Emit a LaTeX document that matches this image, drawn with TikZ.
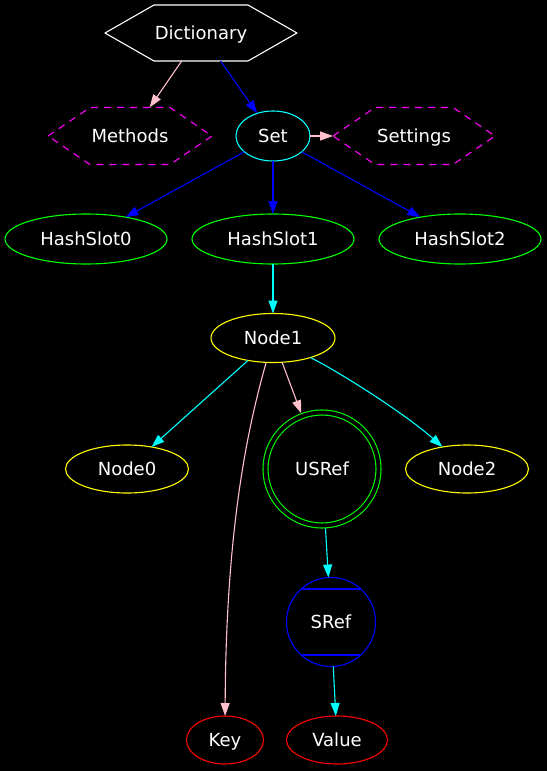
\documentclass[tikz,border=0pt]{standalone}
\usepackage{fontspec}
\setmainfont{DejaVu Sans}
\usetikzlibrary{shapes.geometric, arrows.meta, calc}
\definecolor{gvpink}{HTML}{FFC0CB}
\definecolor{gvblue}{HTML}{0000FF}
\definecolor{gvcyan}{HTML}{00FFFF}
\definecolor{gvgreen}{HTML}{00FF00}
\definecolor{gvyellow}{HTML}{FFFF00}
\definecolor{gvred}{HTML}{FF0000}
\definecolor{gvmagenta}{HTML}{FF00FF}
\tikzset{
	defaultnode/.style={
			inner sep=0pt,
			outer sep=0pt,
			text=white,
			font=\fontsize{18}{20}\selectfont,
			text height=14pt,
			text depth=2pt,
			line width=1.1pt
		},
	hexnode/.style={
			defaultnode,
			rectangle,
			draw=none
		},
	slotnode/.style={
			defaultnode,
			ellipse,
			draw=gvgreen,
			minimum width=162pt,
			minimum height=50pt
		},
	nodenode/.style={
			defaultnode,
			ellipse,
			draw=gvyellow,
			minimum width=123pt,
			minimum height=48pt
		},
	leafnode/.style={
			defaultnode,
			ellipse,
			draw=gvred,
			minimum height=48pt
		},
	hexline/.style={
			line width=1.1pt,
			line join=round
		},
	dashline/.style={
			hexline,
			gvmagenta,
			dash pattern=on 7pt off 6pt
		},
	edgeline/.style={
			line width=1.1pt,
			-{Triangle[length=13pt, width=9pt]}
		}
}

\begin{document}
\begin{tikzpicture}[x=1pt, y=-1pt]
\fill[black] (0,0) rectangle (547,771);

\node[hexnode, minimum width=192pt, minimum height=56pt] (dict) at (201,33) { Dictionary };
\node[hexnode, minimum width=164pt, minimum height=57pt] (methods) at (130,136) { Methods };
\node[defaultnode, ellipse, draw=gvcyan, minimum width=74pt, minimum height=50pt] (set) at (273,136) { Set };
\node[hexnode, minimum width=162pt, minimum height=57pt] (settings) at (414,136) { Settings };

\node[slotnode] (hs0) at (86,239) { HashSlot0 };
\node[slotnode] (hs1) at (273,239) { HashSlot1 };
\node[slotnode] (hs2) at (460,239) { HashSlot2 };

\node[nodenode, minimum width=124pt, minimum height=49pt] (node1) at (273,338) { Node1 };
\node[nodenode] (node0) at (127,469) { Node0 };
\node[defaultnode, circle, draw=gvgreen, double=black, double distance=3.9pt, minimum size=113pt, outer sep=3pt] (usref) at (322,469) { USRef };
\node[nodenode] (node2) at (467,469) { Node2 };

\node[defaultnode, circle, draw=gvblue, minimum size=89pt] (sref) at (331,622) { SRef };
\node[leafnode, minimum width=77pt] (key) at (225,740) { Key };
\node[leafnode, minimum width=101pt] (value) at (337,740) { Value };

\draw[hexline, white] (dict.west) -- ([xshift=49pt]dict.north west) -- ([xshift=-49pt]dict.north east) -- (dict.east) -- ([xshift=-49pt]dict.south east) -- ([xshift=49pt]dict.south west) -- cycle;
\draw[dashline] (methods.west) -- ([xshift=42pt]methods.north west) -- ([xshift=-42pt]methods.north east) -- (methods.east) -- ([xshift=-42pt]methods.south east) -- ([xshift=42pt]methods.south west) -- cycle;
\draw[dashline] (settings.west) -- ([xshift=42pt]settings.north west) -- ([xshift=-42pt]settings.north east) -- (settings.east) -- ([xshift=-42pt]settings.south east) -- ([xshift=42pt]settings.south west) -- cycle;
\draw[hexline, gvblue, line width=1.4pt] (sref.132) -- (sref.48);
\draw[hexline, gvblue, line width=1.4pt] (sref.-132) -- (sref.-48);

\draw[edgeline, gvpink] (dict) -- (methods);
\draw[edgeline, gvblue] (dict) -- (set);
\draw[edgeline, gvpink] (set) -- (settings);

\draw[edgeline, gvblue] (set) -- (hs0);
\draw[edgeline, gvblue] (set) -- (hs1);
\draw[edgeline, gvblue] (set) -- (hs2);

\draw[edgeline, gvcyan] (hs1) -- (node1);
\draw[edgeline, gvcyan] (node1) -- (node0);
\draw[edgeline, gvpink] (node1) -- (usref);
\draw[edgeline, gvcyan] (node1) .. controls (350,378) and (410,418) .. (node2);
\draw[edgeline, gvpink] (node1) .. controls (250,420) and (226,520) .. (key);

\draw[edgeline, gvcyan] (usref) -- (sref);
\draw[edgeline, gvcyan] (sref) -- (value);
\end{tikzpicture}
\end{document}
